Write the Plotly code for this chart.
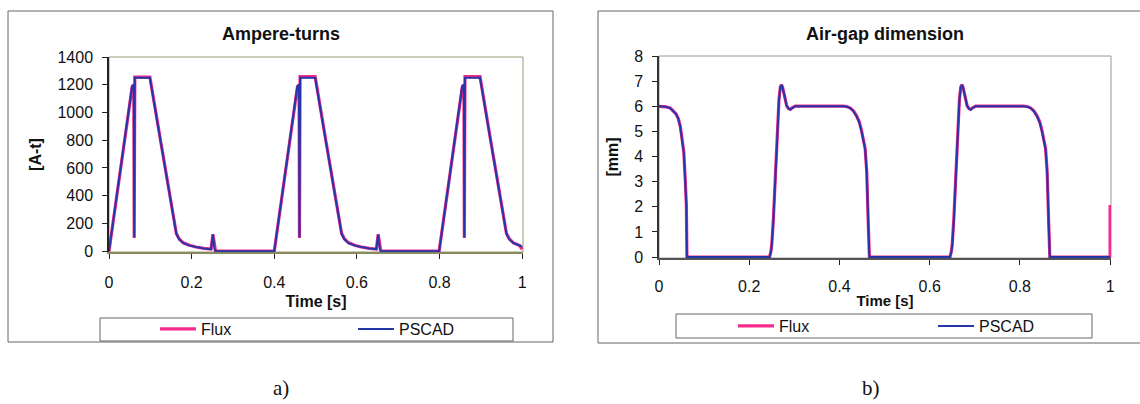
import plotly.graph_objects as go

# ---------------- data: Ampere-turns (left) ----------------
at_time = [0.000, 0.056, 0.060, 0.061, 0.0625, 0.099, 0.125, 0.150, 0.158, 0.163, 0.170, 0.180,
           0.195, 0.210, 0.230, 0.247, 0.2515, 0.2555, 0.258, 0.400,
           0.456, 0.460, 0.461, 0.4625, 0.499, 0.525, 0.550, 0.558, 0.563, 0.570, 0.580,
           0.595, 0.610, 0.630, 0.647, 0.6515, 0.6555, 0.658, 0.799,
           0.855, 0.859, 0.860, 0.8615, 0.898, 0.924, 0.949, 0.957, 0.962, 0.969, 0.979,
           0.994, 1.000]
at_pscad = [0, 1190, 1200, 100, 1250, 1250, 790, 350, 200, 125, 85, 58,
            40, 29, 19, 14, 120, 15, 0, 0,
            1190, 1200, 100, 1250, 1250, 790, 350, 200, 125, 85, 58,
            40, 29, 19, 14, 120, 15, 0, 0,
            1190, 1200, 100, 1250, 1250, 790, 350, 200, 125, 85, 58,
            40, 32]
at_flux = [0, 1185, 1200, 95, 1255, 1255, 795, 355, 205, 128, 88, 60,
           42, 30, 20, 15, 122, 16, 0, 0,
           1185, 1200, 95, 1258, 1258, 795, 355, 205, 128, 88, 60,
           42, 30, 20, 15, 122, 16, 0, 0,
           1185, 1200, 95, 1258, 1258, 795, 355, 205, 128, 88, 60,
           40, 12]

# ---------------- data: Air-gap dimension (right) ----------------
gap_time = [0.000, 0.015, 0.025, 0.032, 0.038, 0.043, 0.047, 0.050, 0.053, 0.055, 0.058, 0.0606, 0.062,
            0.245, 0.248, 0.250, 0.2535, 0.257, 0.2595, 0.2625, 0.266, 0.269, 0.2715, 0.274, 0.277,
            0.280, 0.283, 0.287, 0.291, 0.296, 0.302,
            0.407, 0.416, 0.4235, 0.431, 0.438, 0.444, 0.449, 0.453, 0.457, 0.4605, 0.4627, 0.464, 0.4664,
            0.645, 0.648, 0.650, 0.6535, 0.657, 0.6595, 0.6625, 0.666, 0.669, 0.6715, 0.674, 0.677,
            0.680, 0.683, 0.687, 0.691, 0.696, 0.702,
            0.807, 0.816, 0.8235, 0.831, 0.838, 0.844, 0.849, 0.853, 0.857, 0.8605, 0.8627, 0.864, 0.8664,
            1.000]
gap_pscad = [6.00, 5.98, 5.92, 5.80, 5.68, 5.48, 5.20, 4.81, 4.45, 4.15, 3.10, 2.04, 0.00,
             0.00, 0.20, 0.45, 1.45, 2.70, 4.10, 5.20, 6.25, 6.75, 6.85, 6.75, 6.50,
             6.20, 6.02, 5.90, 5.87, 5.94, 6.00,
             6.00, 5.98, 5.93, 5.80, 5.60, 5.35, 5.00, 4.65, 4.29, 3.36, 2.43, 1.25, 0.00,
             0.00, 0.20, 0.45, 1.45, 2.70, 4.10, 5.20, 6.25, 6.75, 6.85, 6.75, 6.50,
             6.20, 6.02, 5.90, 5.87, 5.94, 6.00,
             6.00, 5.98, 5.93, 5.80, 5.60, 5.35, 5.00, 4.65, 4.29, 3.36, 2.43, 1.25, 0.00,
             0.00]
gap_flux_time = gap_time + [1.000]
gap_flux = [6.00, 5.98, 5.93, 5.82, 5.70, 5.50, 5.22, 4.85, 4.48, 4.18, 3.15, 2.10, 0.00,
            0.00, 0.22, 0.50, 1.50, 2.75, 4.15, 5.25, 6.28, 6.78, 6.86, 6.76, 6.52,
            6.22, 6.03, 5.91, 5.88, 5.95, 6.01,
            6.01, 5.99, 5.94, 5.82, 5.62, 5.38, 5.03, 4.68, 4.32, 3.40, 2.48, 1.30, 0.00,
            0.00, 0.22, 0.50, 1.50, 2.75, 4.15, 5.25, 6.28, 6.78, 6.86, 6.76, 6.52,
            6.22, 6.03, 5.91, 5.88, 5.95, 6.01,
            6.01, 5.99, 5.94, 5.82, 5.62, 5.38, 5.03, 4.68, 4.32, 3.40, 2.48, 1.30, 0.00,
            0.00, 2.07]

x_ticks = [0, 0.2, 0.4, 0.6, 0.8, 1]
x_ticktext = ["0", "0.2", "0.4", "0.6", "0.8", "1"]
at_ticks = [0, 200, 400, 600, 800, 1000, 1200, 1400]
gap_ticks = [0, 1, 2, 3, 4, 5, 6, 7, 8]

FLUX_COLOR = "#f52a8a"
PSCAD_COLOR = "#2436a8"
FONT = "Liberation Sans, Arial, sans-serif"

W, H = 1140, 404


def px(xp):
    return xp / W


def py(yp):
    return 1 - yp / H


fig = go.Figure()

fig.add_trace(go.Scatter(x=at_time, y=at_flux, mode="lines", name="Flux",
                         line=dict(color=FLUX_COLOR, width=3.2), xaxis="x", yaxis="y", legend="legend"))
fig.add_trace(go.Scatter(x=at_time, y=at_pscad, mode="lines", name="PSCAD",
                         line=dict(color=PSCAD_COLOR, width=2), xaxis="x", yaxis="y", legend="legend"))
fig.add_trace(go.Scatter(x=gap_flux_time, y=gap_flux, mode="lines", name="Flux",
                         line=dict(color=FLUX_COLOR, width=3.2), xaxis="x2", yaxis="y2", legend="legend2"))
fig.add_trace(go.Scatter(x=gap_time, y=gap_pscad, mode="lines", name="PSCAD",
                         line=dict(color=PSCAD_COLOR, width=2), xaxis="x2", yaxis="y2", legend="legend2"))

axis_common = dict(showgrid=False, zeroline=False, showline=True, ticks="outside", ticklen=5,
                   tickcolor="#222", tickwidth=1, automargin=False,
                   tickfont=dict(family=FONT, size=16, color="#111"))

fig.update_layout(
    width=W, height=H,
    margin=dict(l=0, r=0, t=0, b=0, pad=0, autoexpand=False),
    paper_bgcolor="white", plot_bgcolor="white",
    font=dict(family=FONT, color="#111"),
    xaxis=dict(domain=[px(109), px(523)], range=[0, 1.002], anchor="y",
               tickvals=x_ticks, ticktext=x_ticktext, linecolor="#8a8a60", linewidth=1.5,
               ticklabelstandoff=10,
               title=dict(text="<b>Time [s]</b>", font=dict(family=FONT, size=16), standoff=6),
               **axis_common),
    yaxis=dict(domain=[py(252), py(57)], range=[-6, 1400], anchor="x",
               tickvals=at_ticks, linecolor="#222", linewidth=1.5, ticklabelstandoff=6,
               title=dict(text="<b>[A-t]</b>", font=dict(family=FONT, size=16), standoff=12),
               **axis_common),
    xaxis2=dict(domain=[px(659), px(1111)], range=[0, 1.002], anchor="y2",
                tickvals=x_ticks, ticktext=x_ticktext, linecolor="#555", linewidth=1.5,
                ticklabelstandoff=8,
                title=dict(text="<b>Time [s]</b>", font=dict(family=FONT, size=15), standoff=2),
                **axis_common),
    yaxis2=dict(domain=[py(258), py(56)], range=[-0.035, 8], anchor="x2",
                tickvals=gap_ticks, linecolor="#333", linewidth=1.5, ticklabelstandoff=6,
                title=dict(text="<b>[mm]</b>", font=dict(family=FONT, size=16), standoff=12),
                **axis_common),
    legend=dict(orientation="h", x=px(155), y=py(329), xanchor="left", yanchor="middle",
                entrywidth=147, entrywidthmode="pixels", bgcolor="rgba(0,0,0,0)",
                font=dict(family=FONT, size=16, color="#111"), itemwidth=36,
                tracegroupgap=0),
    legend2=dict(orientation="h", x=px(733), y=py(326), xanchor="left", yanchor="middle",
                 entrywidth=149, entrywidthmode="pixels", bgcolor="rgba(0,0,0,0)",
                 font=dict(family=FONT, size=16, color="#111"), itemwidth=36,
                 tracegroupgap=0),
    showlegend=True,
)

shapes = []
# outer chart frames
shapes.append(dict(type="rect", xref="paper", yref="paper", x0=px(8), x1=px(553), y0=py(342), y1=py(11),
                   line=dict(color="#666", width=1), layer="below"))
shapes.append(dict(type="rect", xref="paper", yref="paper", x0=px(598), x1=px(1145), y0=py(343), y1=py(11),
                   line=dict(color="#666", width=1), layer="below"))
# plot area borders (top/right)
shapes.append(dict(type="rect", xref="paper", yref="paper", x0=px(109), x1=px(523), y0=py(252), y1=py(57),
                   line=dict(color="#9a9a78", width=1), layer="below"))
shapes.append(dict(type="rect", xref="paper", yref="paper", x0=px(659), x1=px(1111), y0=py(258), y1=py(56),
                   line=dict(color="#999", width=1), layer="below"))
# legend boxes
shapes.append(dict(type="rect", xref="paper", yref="paper", x0=px(100), x1=px(513), y0=py(341), y1=py(318),
                   line=dict(color="#666", width=1), layer="below"))
shapes.append(dict(type="rect", xref="paper", yref="paper", x0=px(676), x1=px(1092), y0=py(338), y1=py(314),
                   line=dict(color="#666", width=1), layer="below"))
fig.update_layout(shapes=shapes)

annotations = [
    dict(text="<b>Ampere-turns</b>", x=px(281), y=py(34), xref="paper", yref="paper",
         showarrow=False, font=dict(family=FONT, size=18, color="#111"), xanchor="center", yanchor="middle"),
    dict(text="<b>Air-gap dimension</b>", x=px(885), y=py(34), xref="paper", yref="paper",
         showarrow=False, font=dict(family=FONT, size=18, color="#111"), xanchor="center", yanchor="middle"),
    dict(text="a)", x=px(281), y=py(388), xref="paper", yref="paper", showarrow=False,
         font=dict(family="Liberation Serif, Times New Roman, serif", size=21, color="#111"),
         xanchor="center", yanchor="middle"),
    dict(text="b)", x=px(871), y=py(388), xref="paper", yref="paper", showarrow=False,
         font=dict(family="Liberation Serif, Times New Roman, serif", size=21, color="#111"),
         xanchor="center", yanchor="middle"),
]
fig.update_layout(annotations=annotations)

fig.write_html("out.html")
